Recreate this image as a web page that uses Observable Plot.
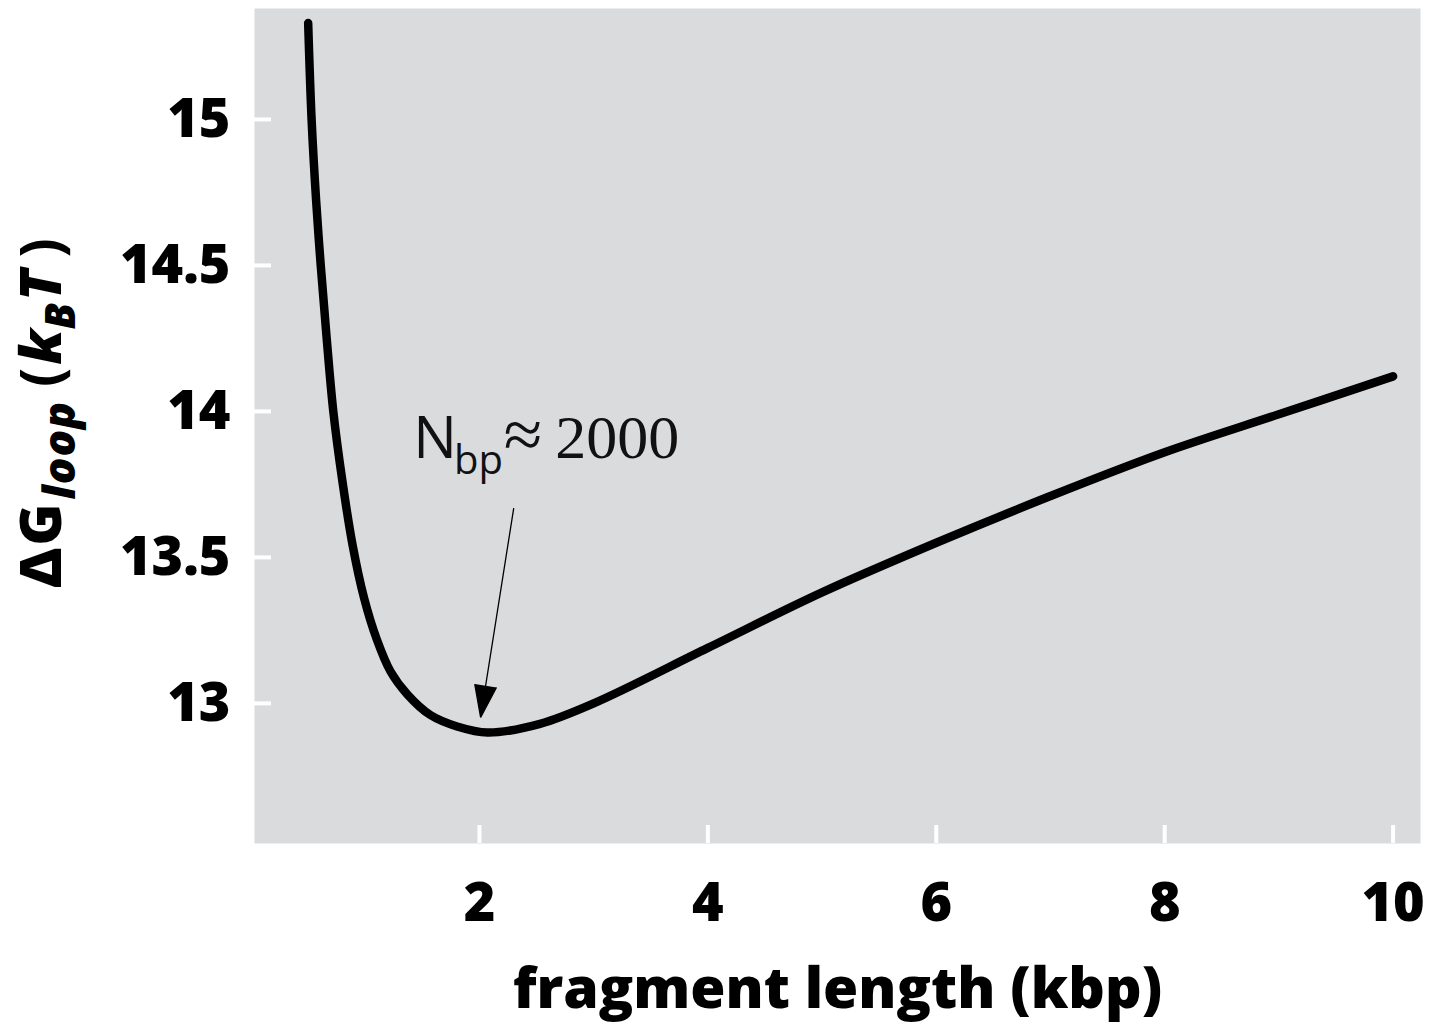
<!DOCTYPE html>
<html>
<head>
<meta charset="utf-8">
<script src="https://cdn.jsdelivr.net/npm/d3@7"></script>
<script src="https://cdn.jsdelivr.net/npm/@observablehq/plot@0.6"></script>
<style>
  html, body { margin: 0; padding: 0; background: #ffffff; }
  #chart svg { display: block; }
</style>
</head>
<body>
<div id="chart"></div>
<script>
// ---- data ----
const lengthKbp = [0.50, 0.53, 0.57, 0.61, 0.66, 0.72, 0.80, 0.89, 0.99, 1.10, 1.22, 1.37, 1.57, 1.81, 2.07, 2.53, 3.0, 4.0, 5.0, 6.0, 7.0, 8.0, 9.0, 10.0];
const deltaG    = [15.33, 15.00, 14.72, 14.50, 14.26, 14.00, 13.76, 13.54, 13.36, 13.22, 13.11, 13.03, 12.96, 12.92, 12.90, 12.93, 13.00, 13.19, 13.38, 13.55, 13.71, 13.86, 13.99, 14.12];

const xTicks = [2, 4, 6, 8, 10];
const yTicks = [13, 13.5, 14, 14.5, 15];
const xDomain = [0.03, 10.24];
const yDomain = [12.52, 15.38];

const xLabel = "fragment length (kbp)";
const yLabelParts = ["\u0394G", "loop", "(", "k", "B", "T", ")"];

// annotation: "N_bp ≈ 2000" and arrow pointing at the minimum
const annotationParts = ["N", "bp", "\u2248", "2000"];
const annotationAt = [{x: 1.42, y: 13.842}];
const arrowFrom = [{x: 2.30, y: 13.669}];
const arrowTo   = [{x: 2.01, y: 12.952}];

// ---- build tables ----
const curve = lengthKbp.map((x, i) => ({x, y: deltaG[i]}));
const arrows = arrowFrom.map((a, i) => ({x1: a.x, y1: a.y, x2: arrowTo[i].x, y2: arrowTo[i].y}));
const yLabelText = yLabelParts.join("");
const annotationText = annotationParts.join("");

const W = 1437, H = 1023;
const mL = 254, mR = 17, mT = 8, mB = 180;
const frameW = W - mL - mR, frameH = H - mT - mB;

const chart = Plot.plot({
  width: W,
  height: H,
  marginLeft: mL, marginRight: mR, marginTop: mT, marginBottom: mB,
  style: {fontFamily: "'Open Sans', sans-serif", color: "#000", background: "#fff", overflow: "visible"},
  x: {domain: xDomain, ticks: xTicks},
  y: {domain: yDomain, ticks: yTicks},
  marks: [
    Plot.frame({fill: "#dadbdd", stroke: null}),
    Plot.tickY(yTicks, {y: d => d, stroke: "#ffffff", strokeWidth: 4, insetRight: frameW - 17}),
    Plot.tickX(xTicks, {x: d => d, stroke: "#ffffff", strokeWidth: 4, insetTop: frameH - 18}),
    Plot.axisY({ticks: yTicks, tickSize: 0, tickPadding: 24, fontSize: 54, fontWeight: 800, label: null, tickFormat: d => String(d)}),
    Plot.axisX({ticks: xTicks, tickSize: 0, tickPadding: 39, fontSize: 54, fontWeight: 800, label: null, tickFormat: d => String(d)}),
    Plot.line(curve, {x: "x", y: "y", stroke: "#000", strokeWidth: 8.5, curve: "catmull-rom", strokeLinecap: "round", strokeLinejoin: "round"}),
    Plot.arrow(arrows, {x1: "x1", y1: "y1", x2: "x2", y2: "y2", stroke: "#000", fill: "#000", strokeWidth: 1.3, headAngle: 38, headLength: 39, strokeLinecap: "butt", strokeLinejoin: "miter"}),
    Plot.text(annotationAt, {x: "x", y: "y", text: () => annotationText, textAnchor: "start", lineAnchor: "bottom", fontSize: 58, fill: "#111"}),
    Plot.text([xLabel], {frameAnchor: "bottom", textAnchor: "middle", lineAnchor: "top", dy: 124, fontSize: 57, fontWeight: 800, fill: "#000"}),
    Plot.text([yLabelText], {frameAnchor: "left", textAnchor: "middle", rotate: -90, dx: -212, dy: -13, lineAnchor: "middle", fontSize: 57, fontWeight: 800, fill: "#000"})
  ]
});

// ---- rich text (subscripts / mixed fonts) ----
const svg = d3.select(chart);
const findText = s => svg.selectAll("text").filter(function () { return this.textContent === s; });

const yl = findText(yLabelText);
yl.text(null);
yl.append("tspan").attr("letter-spacing", 2).text(yLabelParts[0]);
yl.append("tspan").attr("font-style", "italic").attr("font-size", 44).attr("dy", 14).attr("dx", 2).attr("letter-spacing", 1).text(yLabelParts[1]);
yl.append("tspan").attr("dy", -14).attr("dx", 14).attr("font-weight", 700).text(yLabelParts[2]);
yl.append("tspan").attr("font-style", "italic").attr("dx", 3).text(yLabelParts[3]);
yl.append("tspan").attr("font-style", "italic").attr("font-size", 42).attr("dy", 14).text(yLabelParts[4]);
yl.append("tspan").attr("font-style", "italic").attr("dy", -14).attr("dx", 2).text(yLabelParts[5]);
yl.append("tspan").attr("dx", 12).attr("font-weight", 700).text(yLabelParts[6]);

const an = findText(annotationText);
an.text(null);
an.append("tspan").attr("font-family", "'Open Sans', sans-serif").attr("font-size", 58).text(annotationParts[0]);
an.append("tspan").attr("font-family", "'Open Sans', sans-serif").attr("font-size", 40).attr("dy", 16).attr("dx", -3).text(annotationParts[1]);
an.append("tspan").attr("font-family", "'Liberation Serif', serif").attr("font-size", 70).attr("dy", -16).attr("dx", 1).text(annotationParts[2]);
an.append("tspan").attr("font-family", "'Liberation Serif', serif").attr("font-size", 62).attr("dx", 13).text(annotationParts[3]);

document.getElementById("chart").append(chart);
</script>
</body>
</html>
